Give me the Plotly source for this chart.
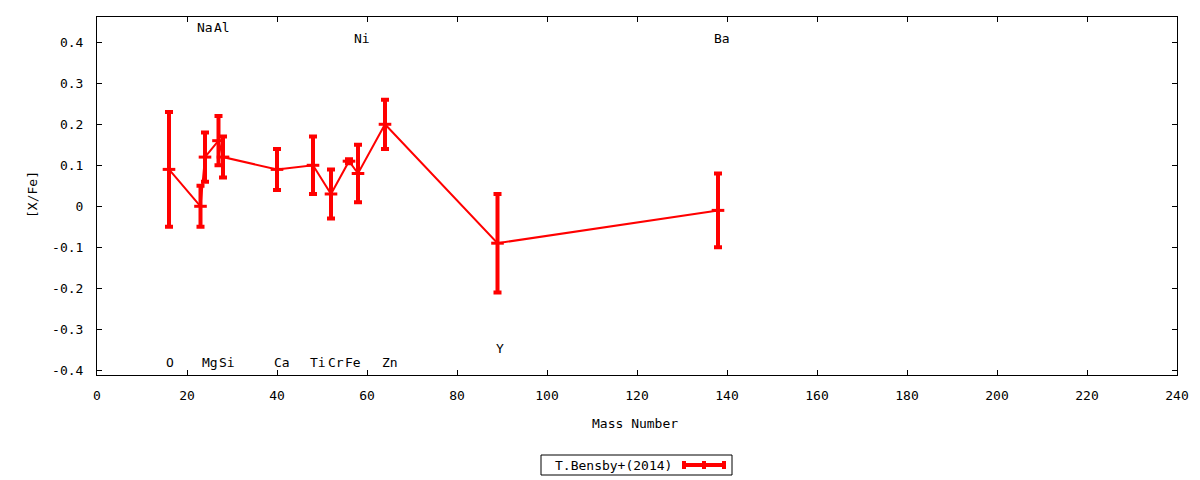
import plotly.graph_objects as go

# Data
elements = ["O", "Na", "Mg", "Al", "Si", "Ca", "Ti", "Cr", "Fe", "Ni", "Zn", "Y", "Ba"]
mass = [16, 23, 24, 27, 28, 40, 48, 52, 56, 58, 64, 89, 138]
xfe = [0.09, 0.00, 0.12, 0.16, 0.12, 0.09, 0.10, 0.03, 0.11, 0.08, 0.20, -0.09, -0.01]
err = [0.14, 0.05, 0.06, 0.06, 0.05, 0.05, 0.07, 0.06, 0.005, 0.07, 0.06, 0.12, 0.09]

# element label positions (text annotations)
label_text = ["Na", "Al", "Ni", "Ba", "O", "Mg", "Si", "Ca", "Ti", "Cr", "Fe", "Zn", "Y"]
label_x = [24.0, 27.8, 58.9, 138.9, 16.3, 25.1, 28.9, 41.0, 49.1, 53.1, 56.9, 65.0, 89.6]
label_y = [0.435, 0.435, 0.41, 0.41, -0.382, -0.382, -0.382, -0.382, -0.382, -0.382, -0.382, -0.382, -0.348]

x_ticks = list(range(0, 241, 20))
y_ticks = [0.4, 0.3, 0.2, 0.1, 0, -0.1, -0.2, -0.3, -0.4]
y_ticktext = ["0.4", "0.3", "0.2", "0.1", "0", "-0.1", "-0.2", "-0.3", "-0.4"]

series_name = "T.Bensby+(2014)"

FONT = "DejaVu Sans Mono"
RED = "#ff0000"
FS = 13

fig = go.Figure()
fig.add_trace(go.Scatter(
    x=mass, y=xfe, mode="lines+markers", name=series_name,
    line=dict(color=RED, width=2),
    marker=dict(symbol="line-ew", size=9, color=RED, line=dict(color=RED, width=3)),
    error_y=dict(type="data", array=err, visible=True, color=RED, thickness=4, width=4),
    showlegend=False,
))

for t, lx, ly in zip(label_text, label_x, label_y):
    fig.add_annotation(x=lx, y=ly, text=t, showarrow=False, xref="x", yref="y",
                       xanchor="center", yanchor="middle",
                       font=dict(family=FONT, size=FS, color="black"))

# page offset: the browser body has an 8px margin
OFF = 8
L, T, PW, PH = 97 - OFF, 17 - OFF, 1080, 358


def px(xp):
    return (xp - 97) / PW


def py(yp):
    return (375 - yp) / PH


# axis titles
fig.add_annotation(x=px(32), y=py(195), xref="paper", yref="paper", text="[X/Fe]",
                   textangle=-90, showarrow=False, xanchor="center", yanchor="middle",
                   font=dict(family=FONT, size=FS, color="black"))
fig.add_annotation(x=px(635), y=py(424), xref="paper", yref="paper", text="Mass Number",
                   showarrow=False, xanchor="center", yanchor="middle",
                   font=dict(family=FONT, size=FS, color="black"))

# custom legend box (gnuplot style: text then sample)
fig.add_shape(type="rect", xref="paper", yref="paper",
              x0=px(541), x1=px(732), y0=py(475), y1=py(455),
              line=dict(color="black", width=1), fillcolor="white")
fig.add_annotation(x=px(674), y=py(465), xref="paper", yref="paper", text=series_name,
                   xanchor="right", yanchor="middle", showarrow=False,
                   font=dict(family=FONT, size=FS, color="black"))
fig.add_shape(type="line", xref="paper", yref="paper", x0=px(682), x1=px(726), y0=py(465), y1=py(465),
              line=dict(color=RED, width=4))
for cx in (684, 704, 724):
    fig.add_shape(type="line", xref="paper", yref="paper", x0=px(cx), x1=px(cx), y0=py(469), y1=py(461),
                  line=dict(color=RED, width=4))

fig.update_layout(
    width=1200 - OFF, height=480 - OFF,
    margin=dict(l=L, r=1200 - OFF - L - PW, t=T, b=480 - OFF - T - PH, pad=0),
    plot_bgcolor="white", paper_bgcolor="white",
    font=dict(family=FONT, size=FS, color="black"),
    showlegend=False,
)
fig.update_xaxes(range=[0, 240], tickvals=x_ticks, ticks="inside", ticklen=5, tickcolor="black",
                 showline=True, linecolor="black", linewidth=1, mirror="ticks", showgrid=False,
                 zeroline=False, ticklabelstandoff=8)
fig.update_yaxes(range=[-0.4115, 0.4617], tickvals=y_ticks, ticktext=y_ticktext, ticks="inside",
                 ticklen=5, tickcolor="black", showline=True, linecolor="black", linewidth=1,
                 mirror="ticks", showgrid=False, zeroline=False, ticklabelstandoff=10)

fig.write_html("out.html")
